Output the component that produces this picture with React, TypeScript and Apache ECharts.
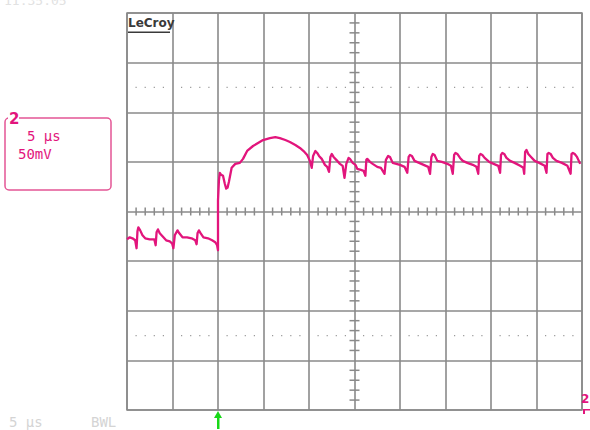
import React, { useEffect, useRef } from "react";
import * as echarts from "echarts";

// time axis (µs) and voltage axis (mV)
const timeMin = 0;
const timeMax = 50;
const timeDiv = 5;
const mvMin = -200;
const mvMax = 200;
const mvDiv = 50;
const triggerTime = 10;

// channel 2 trace, before the trigger
const preTime = [
  0.0, 0.3, 0.6, 0.9, 1.05, 1.15, 1.25, 1.45, 1.7, 2.0, 2.5, 3.0, 3.15, 3.25, 3.4, 3.6, 3.9, 4.3, 4.7, 4.95,
  5.1, 5.25, 5.55, 5.75, 6.1, 6.6, 7.1, 7.5, 7.65, 7.75, 7.9, 8.1, 8.4, 8.9, 9.35, 9.7, 9.9,
];
const preMv = [
  -28, -26, -27, -29, -37, -20, -16, -19, -24, -27, -28, -28, -34, -21, -18, -22, -25, -29, -30, -32,
  -37, -24, -19, -22, -26, -26, -27, -29, -33, -22, -19, -22, -26, -27, -29, -31, -34,
];

// channel 2 trace, from the trigger on
const postTime = [
  10.0, 10.0, 10.1, 10.2, 10.35, 10.55, 10.75, 10.9, 11.05, 11.2, 11.5, 11.9, 12.4, 12.75, 13.2, 13.85, 14.4, 14.95,
  15.7, 16.3, 16.8, 17.4, 17.9, 18.5, 19.0, 19.5, 19.8, 20.1, 20.3, 20.45, 20.7, 20.9, 21.1, 21.4, 21.75, 22.0,
  22.2, 22.35, 22.5, 22.7, 23.0, 23.4, 23.7, 23.9, 24.1, 24.35, 24.5, 24.8, 25.1, 25.3, 25.7, 26.0, 26.2, 26.3,
  26.4, 26.7, 27.0, 27.5, 27.9, 28.3, 28.45, 28.7, 28.9, 29.2, 29.6, 30.0, 30.5, 30.8, 30.95, 31.1, 31.3, 31.6,
  32.1, 32.6, 33.1, 33.3, 33.45, 33.6, 33.8, 34.1, 34.6, 35.2, 35.6, 35.8, 35.95, 36.1, 36.3, 36.6, 36.9, 37.4,
  38.0, 38.4, 38.6, 38.7, 38.85, 39.05, 39.3, 39.8, 40.3, 40.8, 41.0, 41.1, 41.25, 41.45, 41.7, 42.1, 42.6, 43.2,
  43.55, 43.65, 43.75, 43.9, 44.1, 44.4, 44.8, 45.3, 45.9, 46.1, 46.2, 46.35, 46.55, 46.8, 47.2, 47.8, 48.4,
  48.75, 48.85, 49.0, 49.2, 49.45, 49.6, 49.8,
];
const postMv = [
  -39, 11, 31, 39, 37, 36, 28, 23, 24, 30, 44, 48, 49, 53, 61, 66, 69, 72,
  74, 75, 74, 72, 70, 67, 64, 60, 57, 51, 44, 56, 61, 59, 56, 53, 47, 45,
  40, 55, 58, 55, 52, 48, 46, 34, 48, 54, 53, 49, 47, 43, 42, 41, 36, 52,
  53, 50, 48, 45, 44, 38, 52, 56, 55, 49, 48, 47, 45, 39, 55, 57, 56, 51,
  49, 47, 45, 38, 55, 58, 57, 51, 50, 48, 46, 38, 57, 59, 58, 54, 51, 49,
  47, 45, 38, 56, 58, 57, 54, 50, 48, 46, 39, 57, 59, 58, 54, 51, 49, 46,
  44, 38, 60, 62, 58, 55, 51, 49, 46, 39, 58, 59, 58, 54, 51, 49, 46,
  38, 58, 59, 58, 55, 52, 48,
];

const traceColor = "#e2157c";
const gridColor = "#8a8a8a";

export default function App() {
  const ref = useRef<HTMLDivElement>(null);
  useEffect(() => {
    if (!ref.current) return;
    const chart = echarts.init(ref.current, undefined, { renderer: "svg" });

    // decorative graticule marks: centre-line minor ticks and dotted rows
    const marks: number[][] = [];
    for (let t = timeMin + 1; t < timeMax; t += 1) {
      if (t % timeDiv !== 0) {
        marks.push([t, 0, 0]);
        marks.push([t, 125, 2]);
        marks.push([t, -125, 2]);
      }
    }
    for (let v = mvMin + 10; v < mvMax; v += 10) {
      if (v % mvDiv !== 0) marks.push([25, v, 1]);
    }

    const times = preTime.concat(postTime);
    const mvs = preMv.concat(postMv);
    const data = times.map((t, i) => [t, mvs[i]]);

    chart.setOption({
      animation: false,
      backgroundColor: "#ffffff",
      grid: {
        left: 127,
        top: 13,
        width: 455,
        height: 397,
        show: true,
        borderColor: gridColor,
        borderWidth: 1.5,
        backgroundColor: "#ffffff",
      },
      xAxis: {
        type: "value",
        min: timeMin,
        max: timeMax,
        interval: timeDiv,
        axisLine: { show: false },
        axisTick: { show: false },
        axisLabel: { show: false },
        splitLine: { show: true, lineStyle: { color: gridColor, width: 1.6 } },
      },
      yAxis: {
        type: "value",
        min: mvMin,
        max: mvMax,
        interval: mvDiv,
        axisLine: { show: false },
        axisTick: { show: false },
        axisLabel: { show: false },
        splitLine: { show: true, lineStyle: { color: gridColor, width: 1.6 } },
      },
      series: [
        {
          type: "custom",
          data: marks,
          silent: true,
          z: 1,
          renderItem: (params: any, api: any) => {
            const kind = api.value(2);
            const p = api.coord([api.value(0), api.value(1)]);
            if (kind === 0) {
              return {
                type: "line",
                shape: { x1: p[0], y1: p[1] - 4, x2: p[0], y2: p[1] + 4 },
                style: { stroke: gridColor, lineWidth: 1.5 },
              };
            }
            if (kind === 1) {
              return {
                type: "line",
                shape: { x1: p[0] - 5, y1: p[1], x2: p[0] + 5, y2: p[1] },
                style: { stroke: gridColor, lineWidth: 1.5 },
              };
            }
            return {
              type: "rect",
              shape: { x: p[0] - 0.6, y: p[1] - 0.6, width: 1.2, height: 1.2 },
              style: { fill: "#9a9a9a" },
            };
          },
        },
        {
          type: "line",
          data,
          showSymbol: false,
          symbol: "none",
          z: 5,
          lineStyle: { color: traceColor, width: 2.3, join: "round" },
        },
      ],
    });

    const trigX = chart.convertToPixel({ xAxisIndex: 0 }, triggerTime) as number;
    const mono = "'DejaVu Sans Mono', monospace";

    chart.setOption({
      graphic: [
        {
          type: "text",
          x: 4,
          y: -6,
          style: { text: "11:35:05", fill: "#e2e2e2", font: `13px ${mono}` },
        },
        {
          type: "text",
          x: 128,
          y: 17,
          style: { text: "LeCroy", fill: "#3a3a3a", font: "bold 12px 'DejaVu Sans', sans-serif" },
        },
        {
          type: "rect",
          shape: { x: 128, y: 31.5, width: 42, height: 1.5 },
          style: { fill: "#3a3a3a" },
        },
        {
          type: "rect",
          shape: { x: 5, y: 118, width: 106, height: 72, r: 4 },
          style: { fill: "#ffffff", stroke: "#e45595", lineWidth: 1.5 },
        },
        {
          type: "rect",
          shape: { x: 8, y: 114, width: 11, height: 8 },
          style: { fill: "#ffffff" },
        },
        {
          type: "text",
          x: 9,
          y: 111,
          style: { text: "2", fill: traceColor, font: "bold 15px 'DejaVu Sans', sans-serif" },
        },
        {
          type: "text",
          x: 27,
          y: 129,
          style: { text: "5 µs", fill: traceColor, font: `14px ${mono}` },
        },
        {
          type: "text",
          x: 18,
          y: 147,
          style: { text: "50mV", fill: traceColor, font: `14px ${mono}` },
        },
        {
          type: "text",
          x: 9,
          y: 415,
          style: { text: "5 µs", fill: "#d4d4d4", font: `14px ${mono}` },
        },
        {
          type: "text",
          x: 91,
          y: 415,
          style: { text: "BWL", fill: "#d4d4d4", font: `14px ${mono}` },
        },
        {
          type: "polygon",
          shape: { points: [[trigX - 4, 418], [trigX, 411], [trigX + 4, 418]] },
          style: { fill: "#18d818" },
        },
        {
          type: "rect",
          shape: { x: trigX - 1, y: 416, width: 2.5, height: 13 },
          style: { fill: "#18d818" },
        },
        {
          type: "text",
          x: 581,
          y: 393,
          style: { text: "2", fill: traceColor, font: "bold 12px 'DejaVu Sans', sans-serif" },
        },
        {
          type: "polygon",
          shape: { points: [[583, 409], [590, 409], [590, 410.5], [585, 410.5], [585, 414], [583, 414]] },
          style: { fill: traceColor },
        },
      ],
    });

    return () => chart.dispose();
  }, []);

  return (
    <div
      ref={ref}
      style={{ position: "absolute", left: 0, top: 0, width: 590, height: 430, background: "#ffffff" }}
    />
  );
}
